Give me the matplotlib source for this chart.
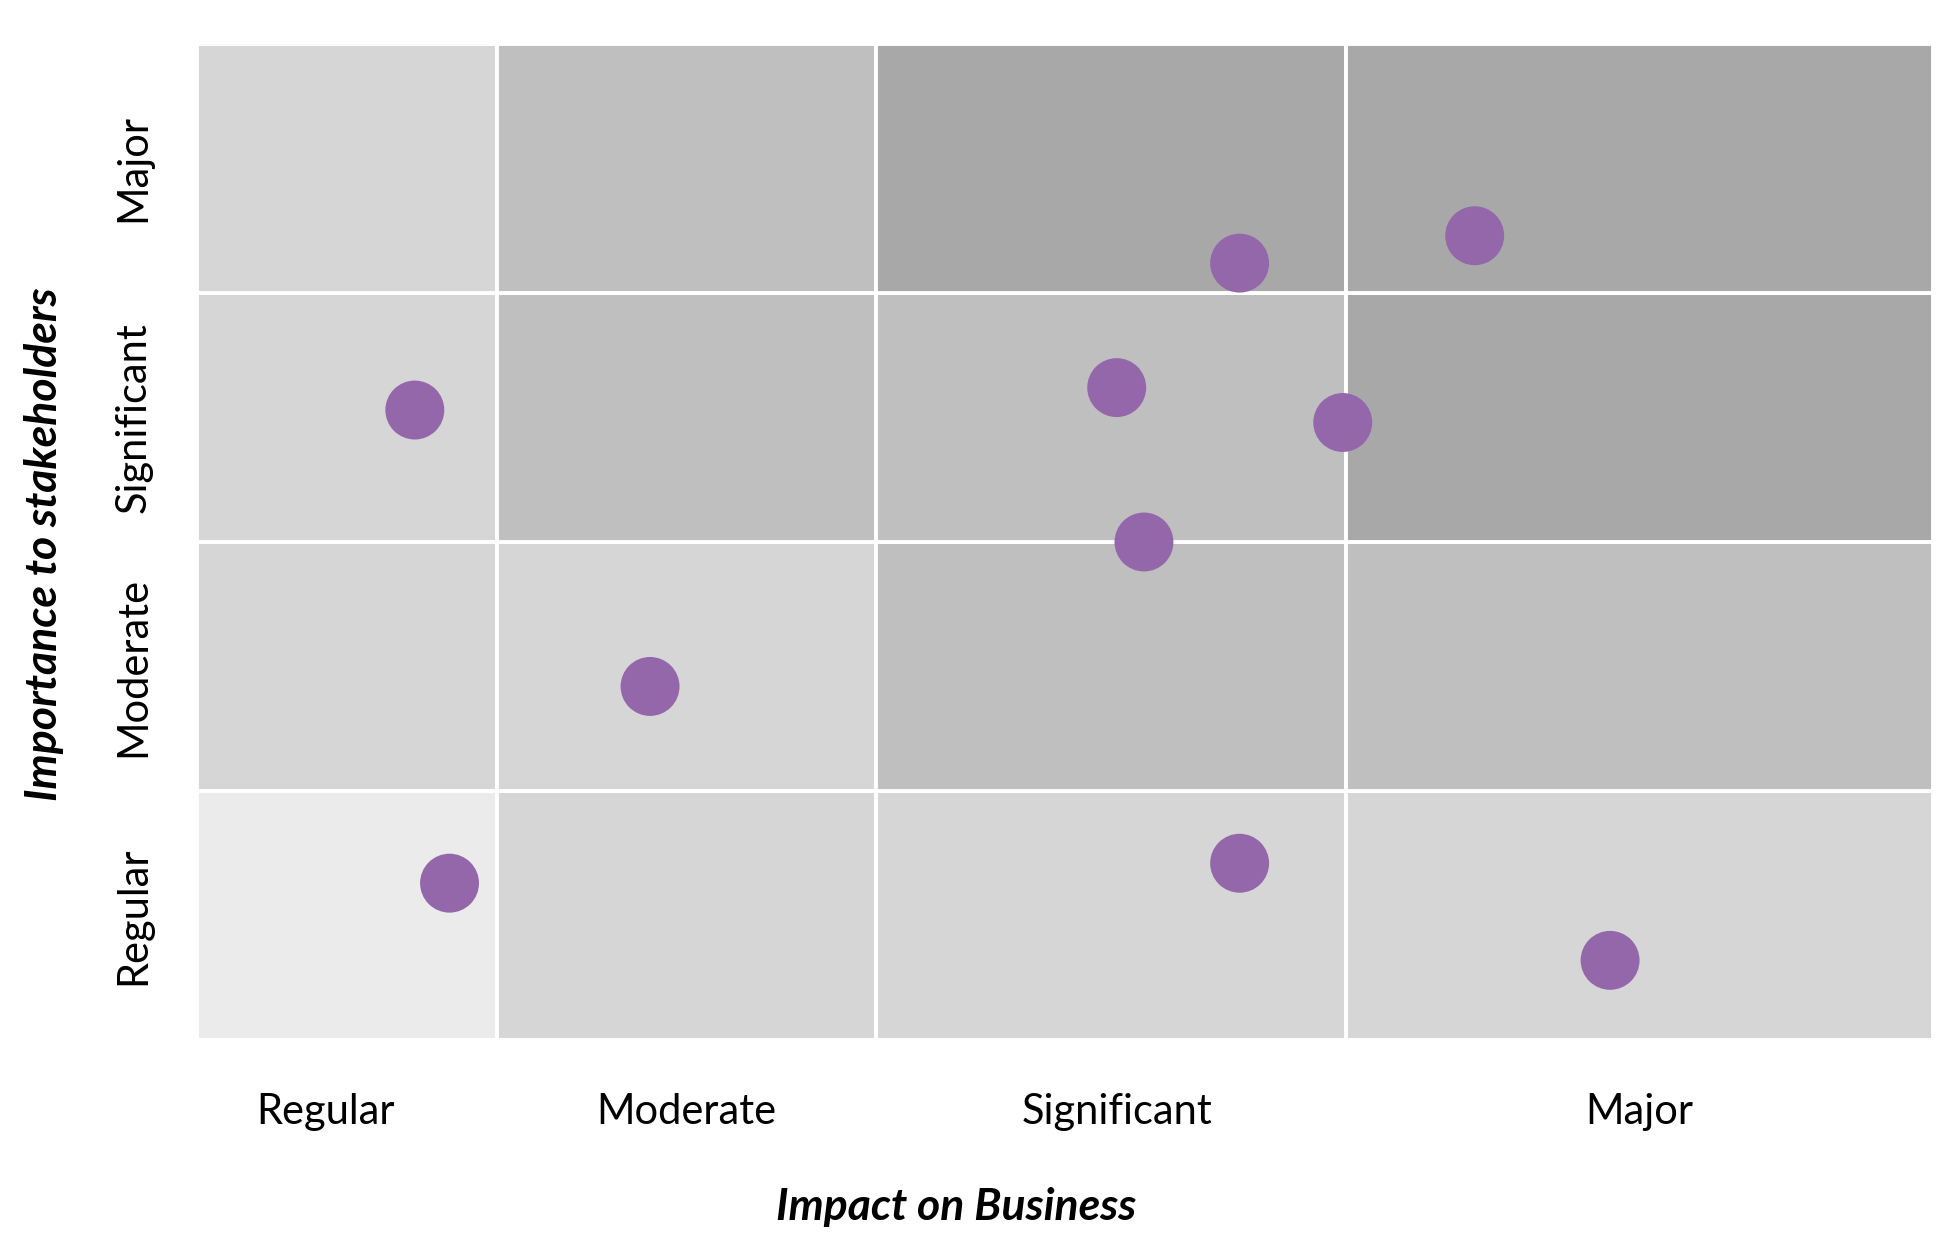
import matplotlib.pyplot as plt
from matplotlib.patches import Rectangle

# axis categories (low -> high)
levels = ['Regular', 'Moderate', 'Significant', 'Major']

# column edges on the impact axis (columns are not equal width)
col_edges = [0, 17.3, 39.1, 66.2, 100]
row_edges = [0, 1, 2, 3, 4]

# where the impact labels sit
x_tick_pos = [7.4, 28.2, 53.0, 83.1]

# shade of every cell, rows from bottom (Regular) to top (Major)
cell_colors = [
    ['#ebebeb', '#d6d6d6', '#d6d6d6', '#d6d6d6'],
    ['#d6d6d6', '#d6d6d6', '#bfbfbf', '#bfbfbf'],
    ['#d6d6d6', '#bfbfbf', '#bfbfbf', '#a8a8a8'],
    ['#d6d6d6', '#bfbfbf', '#a8a8a8', '#a8a8a8'],
]

# topics: impact on business (x) vs importance to stakeholders (y)
impact = [12.55, 14.55, 26.1, 52.98, 54.55, 60.06, 60.06, 66.0, 73.6, 81.4]
importance = [2.53, 0.63, 1.42, 2.62, 2.00, 3.12, 0.71, 2.48, 3.23, 0.32]

plt.rcParams['font.family'] = ['Lato', 'DejaVu Sans']

fig = plt.figure(figsize=(19.48, 12.46), dpi=100)
ax = fig.add_axes([0.1011, 0.1653, 0.8912, 0.7994])

for r in range(len(row_edges) - 1):
    for c in range(len(col_edges) - 1):
        ax.add_patch(Rectangle((col_edges[c], row_edges[r]),
                               col_edges[c + 1] - col_edges[c],
                               row_edges[r + 1] - row_edges[r],
                               facecolor=cell_colors[r][c], edgecolor='white',
                               linewidth=2.8, zorder=1))

ax.scatter(impact, importance, s=1800, color='#9467ab', edgecolors='none', zorder=3)

ax.set_xlim(col_edges[0], col_edges[-1])
ax.set_ylim(row_edges[0], row_edges[-1])

ax.set_xticks(x_tick_pos)
ax.set_xticklabels(levels, fontsize=30, color='black')
ax.set_yticks([(row_edges[i] + row_edges[i + 1]) / 2 for i in range(4)])
ax.set_yticklabels(levels, fontsize=30, color='black', rotation=90, va='center')
ax.tick_params(axis='x', length=0, pad=38)
ax.tick_params(axis='y', length=0, pad=32)
for s in ax.spines.values():
    s.set_visible(False)

fig.text(0.491, 0.031, 'Impact on Business', fontsize=32, fontweight='bold',
         style='italic', ha='center', va='center')
fig.text(0.0225, 0.563, 'Importance to stakeholders', fontsize=32, fontweight='bold',
         style='italic', ha='center', va='center', rotation=90)

fig.savefig('out.png', dpi=100, facecolor='white')
